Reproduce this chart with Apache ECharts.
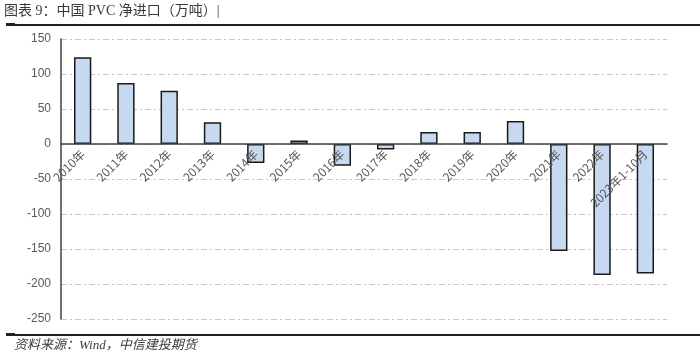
<!DOCTYPE html>
<html><head><meta charset="utf-8">
<script src="https://cdn.jsdelivr.net/npm/echarts@6/dist/echarts.min.js"></script>
<style>html,body{margin:0;padding:0;background:#fff}#c{width:700px;height:357px}</style>
</head><body><div id="c"></div>
<script>
const categories = ['2010年','2011年','2012年','2013年','2014年','2015年','2016年','2017年','2018年','2019年','2020年','2021年','2022年','2023年1-10月'];
const netImports = [124, 87, 76, 31, -27, 5, -31, -8, 17, 17, 33, -153, -187, -185];
const yTicks = {min: -250, max: 150, interval: 50};
const titleText = '图表 9：中国 PVC 净进口（万吨）|';
const sourceText = '资料来源：Wind，中信建投期货';

const gridTop = 39, gridBottom = 38, H = 357;
const plotH = H - gridTop - gridBottom;
const zeroFromBottom = plotH * (0 - yTicks.min) / (yTicks.max - yTicks.min);

const chart = echarts.init(document.getElementById('c'));
chart.setOption({
  animation: false,
  grid: {left: 61, right: 33, top: gridTop, bottom: gridBottom, outerBoundsMode: 'none', containLabel: false},
  graphic: [
    {type: 'text', left: 4, top: 4, style: {text: titleText, font: '14px "Liberation Serif","Noto Sans CJK SC",serif', fill: '#3a3a3a'}},
    {type: 'rect', shape: {x: 6, y: 24, width: 694, height: 2}, style: {fill: '#222'}},
    {type: 'rect', shape: {x: 6, y: 23, width: 9, height: 3}, style: {fill: '#222'}},
    {type: 'rect', shape: {x: 6, y: 334, width: 694, height: 2}, style: {fill: '#222'}},
    {type: 'rect', shape: {x: 6, y: 333, width: 9, height: 3}, style: {fill: '#222'}},
    {type: 'text', left: 14, top: 339, style: {text: sourceText, font: 'italic 13px "Liberation Serif","Noto Sans CJK SC",serif', fill: '#3a3a3a'}}
  ],
  xAxis: {
    type: 'category', data: categories, position: 'bottom', z: 5,
    offset: -zeroFromBottom,
    axisLine: {onZero: false, lineStyle: {color: '#404040', width: 1.5}},
    axisTick: {show: false},
    axisLabel: {rotate: 45, color: '#595959', fontSize: 12, fontFamily: '"Noto Sans CJK SC", sans-serif', interval: 0, margin: 8}
  },
  yAxis: {
    type: 'value', min: yTicks.min, max: yTicks.max, interval: yTicks.interval,
    axisLine: {show: true, lineStyle: {color: '#404040', width: 1.5}},
    axisTick: {show: false},
    axisLabel: {color: '#595959', fontSize: 12, fontFamily: '"Liberation Sans", sans-serif', margin: 10},
    splitLine: {show: true, lineStyle: {color: '#c8c8c8', type: [6, 3, 2, 3], width: 1}}
  },
  series: [{
    type: 'bar', data: netImports, barWidth: '40%',
    itemStyle: {color: '#c6d9f1', borderColor: '#1a1a1a', borderWidth: 1.5}
  }]
});
</script></body></html>
